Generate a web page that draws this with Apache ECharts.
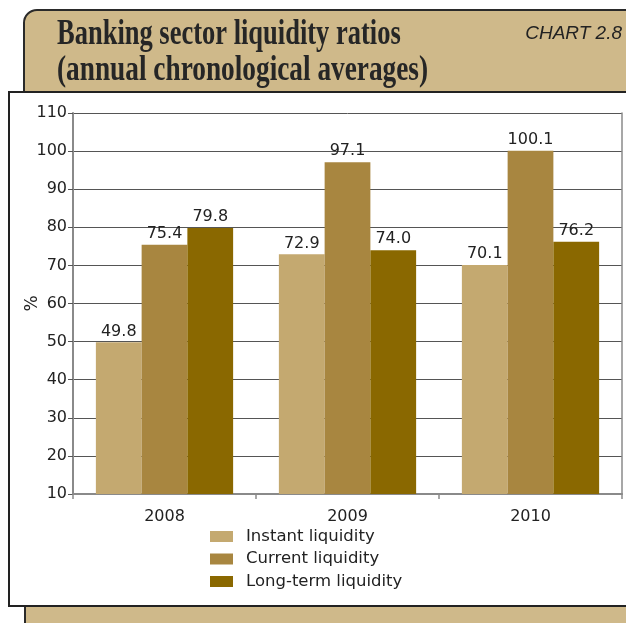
<!DOCTYPE html>
<html>
<head>
<meta charset="utf-8">
<script src="https://cdn.jsdelivr.net/npm/echarts@6/dist/echarts.min.js"></script>
<style>
  html, body { margin: 0; padding: 0; background: #fff; }
  #chart { width: 626px; height: 623px; }
</style>
</head>
<body>
<div id="chart"></div>
<script>
// Banking sector liquidity ratios, annual chronological averages (%)
const years = ['2008', '2009', '2010'];
const seriesNames = ['Instant liquidity', 'Current liquidity', 'Long-term liquidity'];
const instantLiquidity = [49.8, 72.9, 70.1];
const currentLiquidity = [75.4, 97.1, 100.1];
const longTermLiquidity = [79.8, 74.0, 76.2];
const yTicks = [10, 20, 30, 40, 50, 60, 70, 80, 90, 100, 110];

const colors = ['#c4a970', '#a88640', '#8a6800'];
const tan = '#cfb98a';
const ink = '#222';
const sans = '"DejaVu Sans", "Liberation Sans", Arial, sans-serif';
const italicSans = '"Liberation Sans", Arial, sans-serif';
const serif = '"Liberation Serif", "Times New Roman", serif';

const chart = echarts.init(document.getElementById('chart'), null, { renderer: 'canvas' });

function barSeries(name, values, color) {
  return {
    name: name,
    type: 'bar',
    data: values,
    itemStyle: { color: color },
    barGap: '0%',
    barCategoryGap: '25%',
    label: {
      show: true,
      position: 'top',
      distance: 3,
      formatter: p => p.value.toFixed(1),
      color: ink,
      fontFamily: sans,
      fontSize: 16
    },
    z: 5
  };
}

chart.setOption({
  backgroundColor: '#fff',
  animation: false,
  graphic: [
    // header box with rounded top-left corner
    {
      type: 'rect', z: -20,
      shape: { x: 24, y: 10, width: 640, height: 100, r: [13, 0, 0, 0] },
      style: { fill: tan, stroke: '#2a2a2a', lineWidth: 2 }
    },
    // footer strip
    {
      type: 'rect', z: -20,
      shape: { x: 25, y: 600, width: 640, height: 60 },
      style: { fill: tan, stroke: '#2a2a2a', lineWidth: 2 }
    },
    // white chart panel
    {
      type: 'rect', z: -10,
      shape: { x: 9, y: 92, width: 660, height: 514 },
      style: { fill: '#fff', stroke: '#222', lineWidth: 2 }
    },
    {
      type: 'text', z: 10, x: 57, y: 17, scaleX: 0.757,
      style: {
        text: 'Banking sector liquidity ratios',
        font: 'bold 35px ' + serif,
        fill: '#262626'
      }
    },
    {
      type: 'text', z: 10, x: 57, y: 53, scaleX: 0.78,
      style: {
        text: '(annual chronological averages)',
        font: 'bold 35px ' + serif,
        fill: '#262626'
      }
    },
    {
      type: 'text', z: 10, right: 4, top: 24,
      style: {
        text: 'CHART 2.8',
        font: 'italic 19px ' + italicSans,
        fill: ink
      }
    }
  ],
  legend: {
    orient: 'vertical',
    left: 210,
    top: 528,
    padding: 0,
    itemWidth: 23,
    itemHeight: 11,
    itemGap: 5.5,
    icon: 'rect',
    data: seriesNames,
    textStyle: { color: ink, fontFamily: sans, fontSize: 16.5, padding: [0, 0, 0, 8] }
  },
  grid: { left: 73, right: 4, top: 113, bottom: 129, containLabel: false },
  xAxis: {
    type: 'category',
    data: years,
    boundaryGap: true,
    axisLine: { lineStyle: { color: '#8a8a8a', width: 2 } },
    axisTick: { show: true, length: 5, lineStyle: { color: '#8a8a8a', width: 1.5 } },
    axisLabel: { color: ink, fontFamily: sans, fontSize: 16, margin: 15 }
  },
  yAxis: [
    {
      type: 'value',
      min: yTicks[0],
      max: yTicks[yTicks.length - 1],
      interval: 10,
      name: '%',
      nameLocation: 'middle',
      nameGap: 32,
      nameRotate: 90,
      nameMoveOverlap: false,
      nameTextStyle: { color: ink, fontFamily: sans, fontSize: 17 },
      axisLine: { show: true, lineStyle: { color: '#8a8a8a', width: 2 } },
      axisTick: { show: true, length: 5, lineStyle: { color: '#555' } },
      axisLabel: { color: ink, fontFamily: sans, fontSize: 16, margin: 6 },
      splitLine: { show: true, lineStyle: { color: '#555', width: 1 } }
    },
    {
      type: 'value',
      position: 'right',
      min: yTicks[0],
      max: yTicks[yTicks.length - 1],
      interval: 10,
      axisLine: { show: true, lineStyle: { color: '#8a8a8a', width: 1.5 } },
      axisTick: { show: false },
      axisLabel: { show: false },
      splitLine: { show: false }
    }
  ],
  series: [
    barSeries(seriesNames[0], instantLiquidity, colors[0]),
    barSeries(seriesNames[1], currentLiquidity, colors[1]),
    barSeries(seriesNames[2], longTermLiquidity, colors[2])
  ]
});
</script>
</body>
</html>
